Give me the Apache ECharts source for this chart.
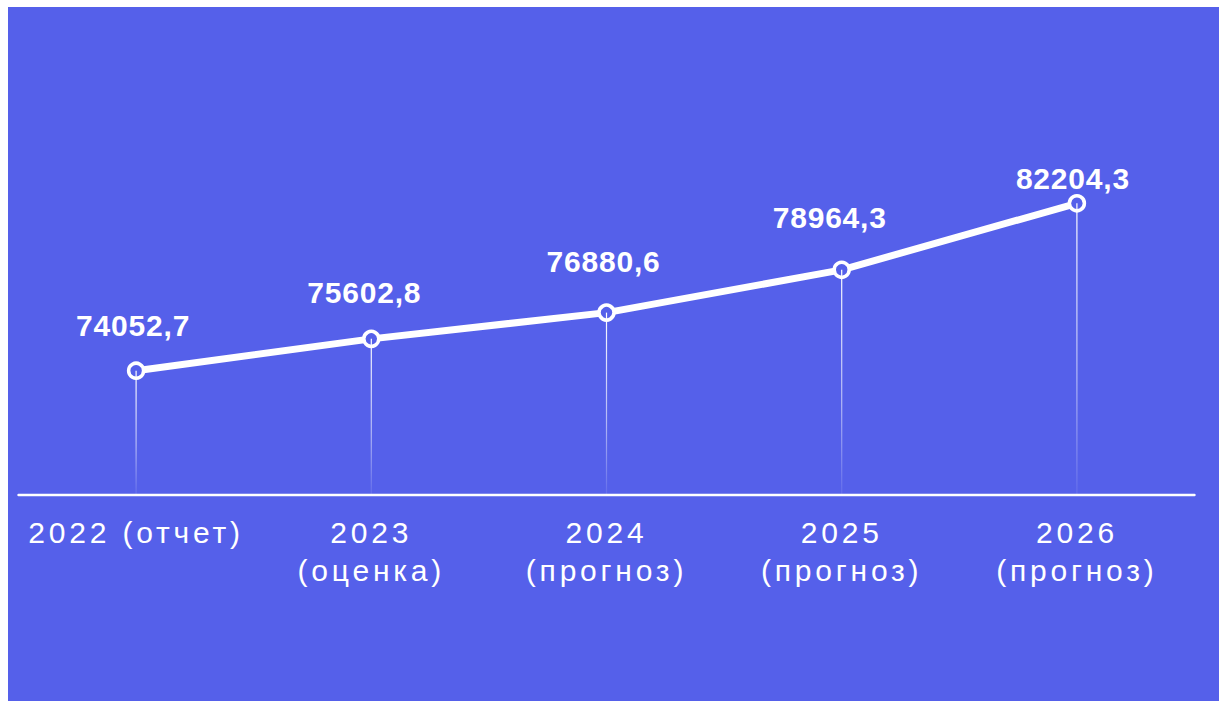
<!DOCTYPE html>
<html>
<head>
<meta charset="utf-8">
<script src="https://cdn.jsdelivr.net/npm/echarts@6/dist/echarts.min.js"></script>
<style>
html, body { margin: 0; padding: 0; background: #ffffff; }
#chart { position: absolute; left: 8px; top: 7px; width: 1211px; height: 694px; background: #5560EA; }
#chart text { letter-spacing: 3.8px; }
#chart text[style*="bold"] { letter-spacing: 0.8px; }
</style>
</head>
<body>
<div id="chart"></div>
<script>
const categories = ['2022 (отчет)', '2023\n(оценка)', '2024\n(прогноз)', '2025\n(прогноз)', '2026\n(прогноз)'];
const values = [74052.7, 75602.8, 76880.6, 78964.3, 82204.3];
const valueLabels = ['74052,7', '75602,8', '76880,6', '78964,3', '82204,3'];
const labelOffsets = [[-3, -45], [-7, -46.5], [-3, -51.5], [-12, -52.5], [-4, -25]];

const chart = echarts.init(document.getElementById('chart'), null, { renderer: 'svg' });

const lineData = values.map((v, i) => ({
  value: v,
  label: { offset: labelOffsets[i], formatter: valueLabels[i] }
}));

chart.setOption({
  animation: false,
  backgroundColor: '#5560EA',
  grid: { left: 10.5, right: 24.5, top: 36.2, bottom: 206, containLabel: false },
  xAxis: {
    type: 'category',
    data: categories,
    boundaryGap: true,
    axisLine: { show: true, lineStyle: { color: '#ffffff', width: 2.4 } },
    axisTick: { show: false },
    splitLine: { show: false },
    axisLabel: {
      color: '#ffffff',
      fontFamily: 'Liberation Sans, Arial, sans-serif',
      fontSize: 30,
      lineHeight: 38,
      margin: 18,
      interval: 0
    }
  },
  yAxis: {
    type: 'value',
    min: 68000,
    max: 90000,
    show: false
  },
  series: [
    {
      type: 'bar',
      data: values,
      barWidth: 1.2,
      z: 5,
      silent: true,
      itemStyle: {
        color: new echarts.graphic.LinearGradient(0, 0, 0, 1, [
          { offset: 0, color: 'rgba(255,255,255,1)' },
          { offset: 0.6, color: 'rgba(255,255,255,0.55)' },
          { offset: 1, color: 'rgba(255,255,255,0.08)' }
        ])
      }
    },
    {
      type: 'line',
      data: lineData,
      z: 3,
      symbol: 'circle',
      symbolSize: 15,
      lineStyle: { color: '#ffffff', width: 7 },
      itemStyle: { color: '#5560EA', borderColor: '#ffffff', borderWidth: 3.5 },
      label: {
        show: true,
        position: 'inside',
        color: '#ffffff',
        fontFamily: 'Liberation Sans, Arial, sans-serif',
        fontWeight: 'bold',
        fontSize: 30
      }
    }
  ]
});
</script>
</body>
</html>
